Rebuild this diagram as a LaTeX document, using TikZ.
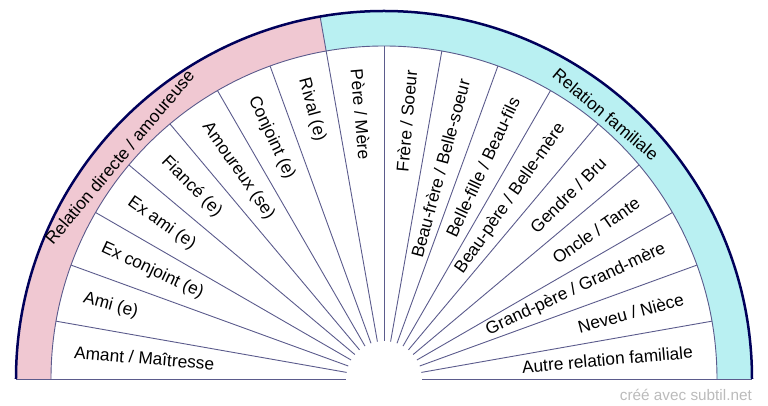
\documentclass[tikz,border=0pt]{standalone}
\usepackage{fontspec}
\setmainfont{Liberation Sans}
\definecolor{p2}{RGB}{240, 200, 210}
\definecolor{c2}{RGB}{185, 240, 242}
\definecolor{n}{HTML}{00005A}
\definecolor{s}{HTML}{5B5B8C}
\definecolor{gr}{HTML}{BBBBBB}

\begin{document}
\begin{tikzpicture}[x=1pt, y=1pt,
		lbl/.style={inner sep=0pt, font=\fontsize{17.3}{20}\selectfont},
		rule/.style={s, line width=0.9}]

			\useasboundingbox (-384,-27) rectangle (384,379);

			\fill[p2] (180:368) arc (180:100:368) -- (100:333) arc (100:180:333) -- cycle;
			\fill[c2] (100:368) arc (100:0:368) -- (0:333) arc (0:100:333) -- cycle;

			\foreach \a in {10,20,...,170} {
					\draw[rule] (\a:38) -- (\a:333);
				}
			\draw[rule] (100:333) -- (100:368);
			\draw[rule] (-368,0) -- (-38,0);
			\draw[rule] (38,0) -- (368,0);
			\draw[rule] (0:333) arc (0:180:333);
			\draw[n, line width=2.5] (0:368) arc (0:180:368);

			\foreach \a/\t [count=\i] in {175/{Amant / Maîtresse}, 165/{Ami (e)}, 155/{Ex conjoint (e)}, 145/{Ex ami (e)}, 135/{Fiancé (e)}, 125/{Amoureux (se)}, 115/{Conjoint (e)}, 105/{Rival (e)}, 95/{Père / Mère}} {
					\node[lbl, rotate=\a-180, anchor=west] (rel\i) at (\a:311) {\t};
				}

			\foreach \a/\t [count=\i] in {85/{Frère / Soeur}, 75/{Beau-frère / Belle-soeur}, 65/{Belle-fille / Beau-fils}, 55/{Beau-père / Belle-mère}, 45/{Gendre / Bru}, 35/{Oncle / Tante}, 25/{Grand-père / Grand-mère}, 15/{Neveu / Nièce}, 5/{Autre relation familiale}} {
					\node[lbl, rotate=\a, anchor=east] (fam\i) at (\a:310) {\t};
				}

			\node[lbl, rotate=50, anchor=base] (direct) at (140:339) {Relation directe / amoureuse};
			\node[lbl, rotate=-40, anchor=base] (family) at (50:339) {Relation familiale};

			\node[inner sep=0pt, anchor=base east, text=gr, font=\fontsize{15.3}{18}\selectfont] (credit) at (368,-21.5) {créé avec subtil.net};

		\end{tikzpicture}
\end{document}
